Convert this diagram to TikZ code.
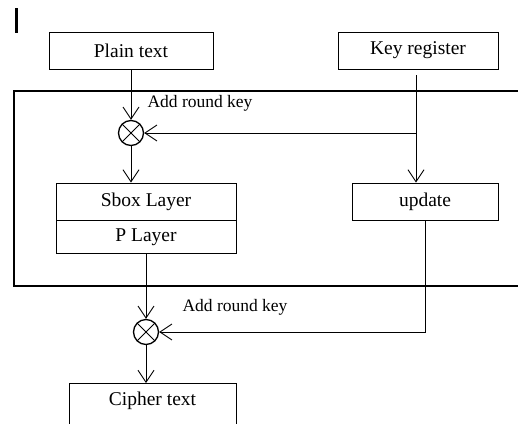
\documentclass[tikz,border=0pt]{standalone}
\usepackage{fontspec}
\setmainfont{Liberation Serif}
\usetikzlibrary{arrows.meta}
\usetikzlibrary{positioning}

\begin{document}
\begin{tikzpicture}[x=1pt,y=-1pt,->,>={Straight Barb[length=12pt,width=16pt]},line width=0.9pt,
                        box/.style={draw,rectangle,inner sep=0pt,font=\fontsize{19.5}{22}\selectfont},
                        xor node/.style={draw,circle,minimum size=25pt,inner sep=0pt,line width=1.3pt,
                          path picture={\draw[-,line width=0.9pt] (path picture bounding box.north west) -- (path picture bounding box.south east)
                                                                 (path picture bounding box.north east) -- (path picture bounding box.south west);}},
                        label text/.style={font=\fontsize{17.5}{20}\selectfont}]

        \useasboundingbox (0,0) rectangle (518,423);
        \clip (0,0) rectangle (518,423);

        \draw[-,line width=3pt] (16,8) -- (16,33);
        \draw[-,line width=2pt] (14,91) rectangle (530,286);

        \node[box,minimum width=164pt,minimum height=37pt] (plain) at (131,50.5) {Plain text};
        \node[box,minimum width=160pt,minimum height=37pt] (keyreg) at (418,50.5) {Key register};
        \node[xor node] (xorA) at (131,133) {};
        \node[box,minimum width=180pt,minimum height=37pt] (sbox) at (146,201.5) {Sbox Layer};
        \node[box,minimum width=180pt,minimum height=33pt] (player) [below=0pt of sbox] {P Layer};
        \node[box,minimum width=146pt,minimum height=37pt] (update) at (425,201.5) {update};
        \node[xor node] (xorB) at (146,332) {};
        \node[box,anchor=north,minimum width=167pt,text height=22pt,text depth=28pt] (cipher) at (152.5,383) {Cipher text};

        \node[label text] (addA) at (200,103) {Add round key};
        \node[label text] (addB) at (235,307) {Add round key};

        \coordinate (keytop) at (416,75);
        \coordinate (keyjoin) at (416,133);

        \begin{scope}
            \path [->] (plain) edge (xorA);
            \path [-] (keytop) edge (keyjoin);
            \path [->] (keyjoin) edge (xorA);
            \path [->] (keyjoin) edge (keyjoin |- update.north);
            \path [->] (xorA) edge (xorA |- sbox.north);
            \path [->] (player) edge (xorB);
            \draw [->] (update) |- (xorB);
            \path [->] (xorB) edge (xorB |- cipher.north);
        \end{scope}
    \end{tikzpicture}
\end{document}
